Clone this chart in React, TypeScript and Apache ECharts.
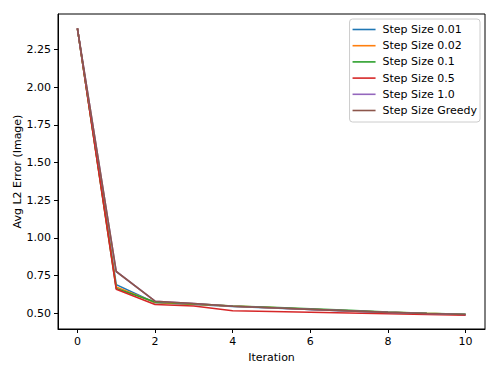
import React, { useEffect, useRef } from "react";
import * as echarts from "echarts";

const iterations = [0, 1, 2, 3, 4, 5, 6, 7, 8, 9, 10];
const seriesNames = [
  "Step Size 0.01",
  "Step Size 0.02",
  "Step Size 0.1",
  "Step Size 0.5",
  "Step Size 1.0",
  "Step Size Greedy",
];
const step001 = [2.39, 0.69, 0.57, 0.558, 0.545, 0.535, 0.525, 0.515, 0.505, 0.498, 0.492];
const step002 = [2.39, 0.675, 0.572, 0.56, 0.547, 0.537, 0.527, 0.517, 0.507, 0.499, 0.492];
const step01 = [2.39, 0.665, 0.575, 0.562, 0.548, 0.54, 0.53, 0.52, 0.508, 0.5, 0.493];
const step05 = [2.39, 0.66, 0.558, 0.548, 0.517, 0.512, 0.507, 0.502, 0.497, 0.492, 0.487];
const step10 = [2.39, 0.777, 0.58, 0.565, 0.546, 0.536, 0.526, 0.516, 0.506, 0.498, 0.492];
const stepGreedy = [2.39, 0.777, 0.58, 0.565, 0.546, 0.536, 0.526, 0.516, 0.506, 0.498, 0.492];
const seriesValues = [step001, step002, step01, step05, step10, stepGreedy];
const colors = ["#1f77b4", "#ff7f0e", "#2ca02c", "#d62728", "#9467bd", "#8c564b"];
const xTicks = [0, 2, 4, 6, 8, 10];
const yTicks = [0.5, 0.75, 1.0, 1.25, 1.5, 1.75, 2.0, 2.25];

const FONT = "DejaVu Sans";

export default function App() {
  const ref = useRef<HTMLDivElement>(null);
  useEffect(() => {
    if (!ref.current) return;
    const chart = echarts.init(ref.current, undefined, { renderer: "svg" });
    const axisCommon = {
      axisLine: { show: true, onZero: false, lineStyle: { color: "#000", width: 1 } },
      axisTick: { show: true, length: 4, lineStyle: { color: "#000", width: 1 } },
      splitLine: { show: false },
      nameMoveOverlap: false,
      nameTextStyle: { color: "#000", fontFamily: FONT, fontSize: 11 },
    };
    chart.setOption({
      animation: false,
      color: colors,
      grid: {
        left: 58,
        top: 14,
        right: 15,
        bottom: 46,
        show: true,
        borderColor: "#000",
        borderWidth: 1,
        backgroundColor: "#fff",
      },
      legend: {
        orient: "vertical",
        right: 20,
        top: 19,
        data: seriesNames,
        icon: "rect",
        itemWidth: 23,
        itemHeight: 1.6,
        itemGap: 3.2,
        padding: [4, 3, 5, 3],
        backgroundColor: "rgba(255,255,255,0.8)",
        borderColor: "#cccccc",
        borderWidth: 1,
        borderRadius: 3,
        textStyle: { color: "#000", fontFamily: FONT, fontSize: 11, padding: [0, 0, 0, 2], lineHeight: 13 },
      },
      xAxis: {
        type: "value",
        min: -0.5,
        max: 10.5,
        name: "Iteration",
        nameLocation: "middle",
        nameGap: 23,
        ...axisCommon,
        axisTick: { ...axisCommon.axisTick, customValues: xTicks },
        axisLabel: {
          customValues: xTicks,
          color: "#000",
          fontFamily: FONT,
          fontSize: 11,
          margin: 7,
        },
      },
      yAxis: {
        type: "value",
        min: 0.3955,
        max: 2.4855,
        name: "Avg L2 Error (Image)",
        nameLocation: "middle",
        nameGap: 35,
        ...axisCommon,
        axisTick: { ...axisCommon.axisTick, customValues: yTicks },
        axisLabel: {
          customValues: yTicks,
          color: "#000",
          fontFamily: FONT,
          fontSize: 11,
          margin: 7,
          formatter: (v: number) => v.toFixed(2),
        },
      },
      series: seriesNames.map((name, i) => ({
        name,
        type: "line",
        symbol: "none",
        data: iterations.map((x, j) => [x, seriesValues[i][j]]),
        lineStyle: { width: 1.6, color: colors[i] },
        itemStyle: { color: colors[i] },
      })),
    });
    return () => chart.dispose();
  }, []);
  return (
    <div
      ref={ref}
      style={{ position: "fixed", left: 0, top: 0, width: 500, height: 375, background: "#fff" }}
    />
  );
}
